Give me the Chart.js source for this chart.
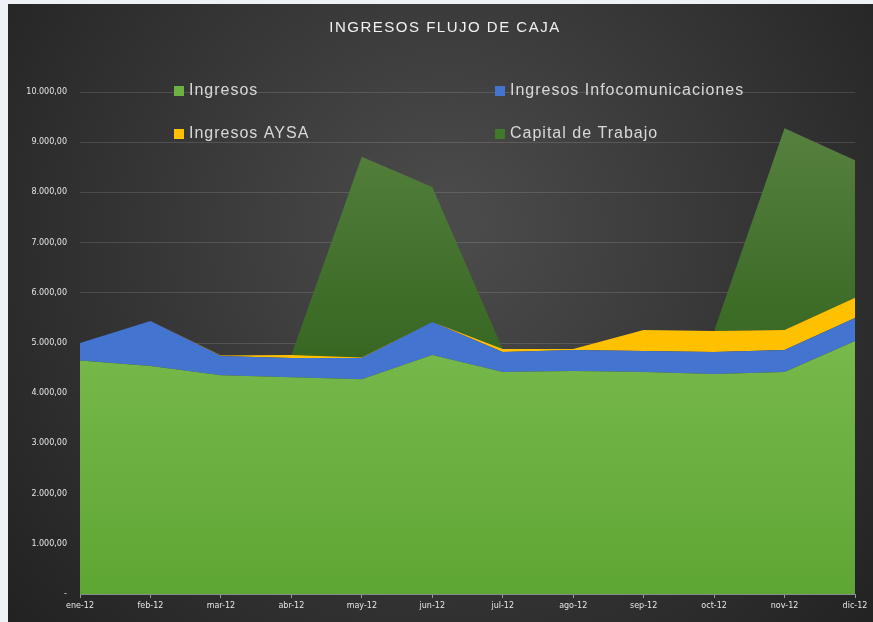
<!DOCTYPE html>
<html>
<head>
<meta charset="utf-8">
<script src="https://cdn.jsdelivr.net/npm/chart.js@4"></script>
<style>
  html, body { margin: 0; padding: 0; background: #eef2f6; }
  #wrap { position: absolute; left: 8px; top: 4px; width: 865px; height: 618px; }
</style>
</head>
<body>
<div id="wrap"><canvas id="flujoCaja"></canvas></div>
<script>
// Datos
const meses = ["ene-12", "feb-12", "mar-12", "abr-12", "may-12", "jun-12",
               "jul-12", "ago-12", "sep-12", "oct-12", "nov-12", "dic-12"];
const ingresos        = [4650, 4540, 4360, 4320, 4280, 4760, 4420, 4440, 4420, 4380, 4420, 5040];
const infocomunicacion = [350, 900, 380, 380, 420, 660, 400, 420, 420, 440, 440, 460];
const aysa            = [0, 0, 10, 60, 10, 0, 60, 20, 420, 420, 400, 400];
const capitalTrabajo  = [0, 0, 0, 0, 4000, 2690, 0, 0, 0, 0, 4020, 2740];

const colores = {
    ingresos: '#6db043',
    info: '#4274d0',
    aysa: '#ffc000',
    capital: '#3d6c25'
};

function formatoNumero(v) {
    if (v === 0) return '-';
    const partes = v.toFixed(2).split('.');
    partes[0] = partes[0].replace(/\B(?=(\d{3})+(?!\d))/g, '.');
    return partes.join(',');
}

// fondo oscuro con degradado tipo Excel
const fondoPlugin = {
    id: 'fondo',
    beforeDraw(chart) {
        const { ctx, width, height } = chart;
        const g = ctx.createRadialGradient(440, 220, 30, 440, 260, 620);
        g.addColorStop(0, '#4a4a4a');
        g.addColorStop(1, '#1e1e1e');
        ctx.save();
        ctx.fillStyle = g;
        ctx.fillRect(0, 0, width, height);
        ctx.restore();
    }
};

// titulo y leyenda dibujados a mano (leyenda 2x2 dentro del area)
const textosPlugin = {
    id: 'textos',
    afterDatasetsDraw(chart) {
        const { ctx } = chart;
        ctx.save();
        ctx.fillStyle = '#f2f2f2';
        ctx.font = '15px "Liberation Sans"';
        ctx.letterSpacing = '1.5px';
        ctx.textAlign = 'center';
        ctx.textBaseline = 'middle';
        ctx.fillText('INGRESOS FLUJO DE CAJA', 437, 24);

        ctx.letterSpacing = '1px';
        ctx.textAlign = 'left';
        ctx.font = '16px "Liberation Sans"';
        const pos = [[166, 87], [487, 87], [166, 130], [487, 130]];
        chart.data.datasets.forEach((ds, i) => {
            const [x, y] = pos[i];
            ctx.fillStyle = ds.legendColor;
            ctx.fillRect(x, y - 5, 10, 10);
            ctx.fillStyle = '#d9d9d9';
            ctx.fillText(ds.label, x + 15, y);
        });
        ctx.restore();
    }
};

function degradadoCapital(context) {
    const area = context.chart.chartArea;
    if (!area) return colores.capital;
    const g = context.chart.ctx.createLinearGradient(0, area.top, 0, area.bottom);
    g.addColorStop(0, '#5b8443');
    g.addColorStop(0.55, '#356620');
    g.addColorStop(1, '#2f5e1c');
    return g;
}

function degradadoIngresos(context) {
    const area = context.chart.chartArea;
    if (!area) return colores.ingresos;
    const g = context.chart.ctx.createLinearGradient(0, area.top + 250, 0, area.bottom);
    g.addColorStop(0, '#78b84c');
    g.addColorStop(1, '#5ea634');
    return g;
}

const ctxFlujo = document.getElementById('flujoCaja').getContext('2d');
new Chart(ctxFlujo, {
    type: 'line',
    data: {
        labels: meses,
        datasets: [
            {
                label: 'Ingresos',
                data: ingresos,
                backgroundColor: degradadoIngresos,
                legendColor: colores.ingresos,
                fill: 'origin'
            },
            {
                label: 'Ingresos Infocomunicaciones',
                data: infocomunicacion,
                backgroundColor: colores.info,
                legendColor: colores.info,
                fill: '-1'
            },
            {
                label: 'Ingresos AYSA',
                data: aysa,
                backgroundColor: colores.aysa,
                legendColor: colores.aysa,
                fill: '-1'
            },
            {
                label: 'Capital de Trabajo',
                data: capitalTrabajo,
                backgroundColor: degradadoCapital,
                legendColor: '#3f7a2a',
                fill: '-1'
            }
        ]
    },
    options: {
        responsive: true,
        maintainAspectRatio: false,
        animation: false,
        elements: {
            line: { borderWidth: 0, tension: 0 },
            point: { radius: 0 }
        },
        layout: { padding: { top: 88, right: 18, left: 0, bottom: 0 } },
        plugins: {
            legend: { display: false },
            title: { display: false },
            tooltip: { enabled: false }
        },
        scales: {
            x: {
                offset: false,
                grid: {
                    drawOnChartArea: false,
                    drawTicks: true,
                    tickLength: 4,
                    color: '#9a9a9a'
                },
                border: { display: true, color: '#8a8a8a' },
                ticks: {
                    color: '#e6e6e6',
                    font: { size: 8, family: 'DejaVu Sans' },
                    maxRotation: 0,
                    autoSkip: false,
                    padding: 3
                },
                afterFit(scale) { scale.height = 28; }
            },
            y: {
                stacked: true,
                min: 0,
                max: 10000,
                grid: { color: 'rgba(255,255,255,0.13)', drawTicks: false },
                border: { display: false },
                ticks: {
                    stepSize: 1000,
                    color: '#e6e6e6',
                    font: { size: 8, family: 'DejaVu Sans' },
                    padding: 13,
                    callback: (v) => formatoNumero(v)
                },
                afterFit(scale) { scale.width = 72; }
            }
        }
    },
    plugins: [fondoPlugin, textosPlugin]
});
</script>
</body>
</html>
